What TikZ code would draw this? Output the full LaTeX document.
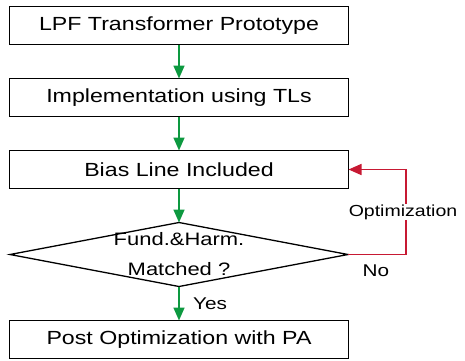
\documentclass[tikz,border=0pt]{standalone}
\usepackage{fontspec}
\setmainfont{Liberation Sans}
\usepackage{graphicx}
\usepackage{tikz}
\usetikzlibrary{shapes.geometric, arrows.meta, positioning}
\definecolor{flowgreen}{rgb}{0.05, 0.60, 0.25}
\definecolor{loopred}{rgb}{0.78, 0.10, 0.20}
\newcommand{\wide}[1]{\scalebox{1.22}[1]{#1}}
\tikzstyle{stage} = [rectangle, minimum width=339pt, minimum height=38pt, outer sep=0pt, text centered, draw=black, line width=1.3pt, font=\fontsize{19}{30}\selectfont]
\tikzstyle{check} = [diamond, aspect=5.2, minimum width=338pt, minimum height=64pt, outer sep=0pt, inner xsep=-30pt, inner ysep=0pt, text centered, align=center, draw=black, line width=1.3pt, font=\fontsize{18}{30}\selectfont]
\tikzstyle{flow} = [line width=1.6pt, draw=flowgreen, -{Triangle[length=13pt, width=11pt, fill=flowgreen]}]
\tikzstyle{back} = [line width=1.6pt, draw=loopred, -{Triangle[length=13pt, width=11pt, fill=loopred]}]

\begin{document}
\begin{tikzpicture}[node distance=34pt, font=\fontsize{17}{20}\selectfont]
    \useasboundingbox (0,0) rectangle (465pt,-360pt);
    \node (proto) [stage] at (179pt,-25.5pt) {\wide{LPF Transformer Prototype}};
    \node (impl) [stage, below=of proto] {\wide{Implementation using TLs}};
    \node (bias) [stage, below=of impl] {\wide{Bias Line Included}};
    \node (match) [check, below=of bias] {\wide{Fund.\&Harm.}\\\wide{Matched ?}};
    \node (post) [stage, below=of match] {\wide{Post Optimization with PA}};

    \draw [flow] (proto) -- (impl);
    \draw [flow] (impl) -- (bias);
    \draw [flow] (bias) -- (match);
    \draw [flow] (match) -- node[right, xshift=10pt] {\wide{Yes}} (post);
    \draw [back] (match.east) -- ++(58pt,0) |- node[pos=0.25, xshift=-3pt, fill=white, inner sep=1pt, font=\fontsize{16}{19}\selectfont] {\wide{Optimization}} (bias.east);
    \node (no) [below right=7pt and 11pt of match.east] {\wide{No}};
\end{tikzpicture}
\end{document}
